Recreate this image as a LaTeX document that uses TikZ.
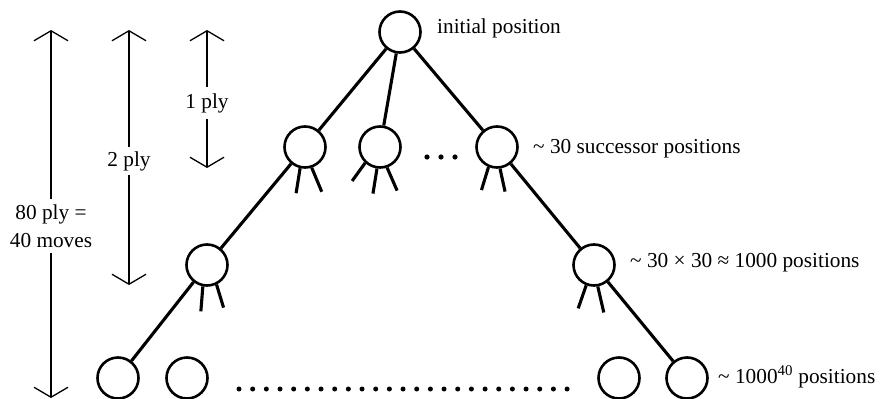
\documentclass[tikz,border=0pt]{standalone}
\usepackage{fontspec}
\setmainfont{Liberation Serif}
\usetikzlibrary{arrows.meta}
\begin{document}
\begin{tikzpicture}[x=1pt,y=-1pt,
  posnode/.style={circle,draw,line width=2.6pt,minimum size=41pt,inner sep=0pt},
  treeedge/.style={line width=3.1pt},
  treestub/.style={line width=3.1pt},
  lbl/.style={inner sep=0pt,anchor=base west,font=\fontsize{21.3}{26}\selectfont},
  plylbl/.style={inner xsep=0pt,inner ysep=6pt,font=\fontsize{21.3}{28}\selectfont,align=center},
  spanarrow/.style={line width=1.3pt,-{Straight Barb[length=10pt,width=34pt]}},
  bigdot/.style={fill=black}
]
\useasboundingbox (0,0) rectangle (884,399);

% game tree positions
\node[posnode] (root) at (400,32) {};
\node[posnode] (a1) at (305,147) {};
\node[posnode] (a2) at (380,147) {};
\node[posnode] (a3) at (497,147) {};
\node[posnode] (b1) at (207,265) {};
\node[posnode] (b2) at (594,265) {};
\node[posnode] (c1) at (118,378) {};
\node[posnode] (c2) at (187,378) {};
\node[posnode] (c3) at (619,378) {};
\node[posnode] (c4) at (687,378) {};

% moves
\draw[treeedge] (root) -- (a1);
\draw[treeedge] (root) -- (a2);
\draw[treeedge] (root) -- (a3);
\draw[treeedge] (a1) -- (b1);
\draw[treeedge] (b1) -- (c1);
\draw[treeedge] (a3) -- (b2);
\draw[treeedge] (b2) -- (c4);

% further moves, only hinted
\draw[treestub] (a1.-103) -- ++(-4,25);
\draw[treestub] (a1.-72) -- ++(10,24);
\draw[treestub] (a2.-133) -- ++(-13,18);
\draw[treestub] (a2.-98) -- ++(-4,25);
\draw[treestub] (a2.-71) -- ++(10,23);
\draw[treestub] (a3.-113) -- ++(-7,23);
\draw[treestub] (a3.-82) -- ++(5,23);
\draw[treestub] (b1.-101) -- ++(-2,25);
\draw[treestub] (b1.-64) -- ++(7,23);
\draw[treestub] (b2.-111) -- ++(-8,23);
\draw[treestub] (b2.-80) -- ++(6,26);

% ellipses
\foreach \x in {427,441,455} \fill[bigdot] (\x,157) circle (2.6pt);
\foreach \i in {0,...,24} \fill[bigdot] ({239+\i*13.67},389) circle (2.5pt);

% level descriptions
\node[lbl] (t0) at (437,33) {initial position};
\node[lbl] (t1) at (533,153) {\textasciitilde{} 30 successor positions};
\node[lbl] (t2) at (630,267) {\textasciitilde{} 30 × 30 ≈ 1000 positions};
\node[lbl] (t3) at (718,383) {\textasciitilde{} 1000\textsuperscript{40} positions};

% depth markers
\coordinate (p1t) at (207,30);
\coordinate (p1b) at (207,168);
\node[plylbl,anchor=base] (p1) at (207,108) {1 ply};
\draw[spanarrow] (p1) -- (p1t);
\draw[spanarrow] (p1) -- (p1b);

\coordinate (p2t) at (129,30);
\coordinate (p2b) at (129,285);
\node[plylbl,anchor=base,inner ysep=4pt] (p2) at (129,166) {2 ply};
\draw[spanarrow] (p2) -- (p2t);
\draw[spanarrow] (p2) -- (p2b);

\coordinate (p80t) at (51,30);
\coordinate (p80b) at (51,398);
\node[plylbl,inner ysep=5pt] (p80) at (51,226) {80 ply =\\40 moves};
\draw[spanarrow] (p80) -- (p80t);
\draw[spanarrow] (p80) -- (p80b);
\end{tikzpicture}
\end{document}
